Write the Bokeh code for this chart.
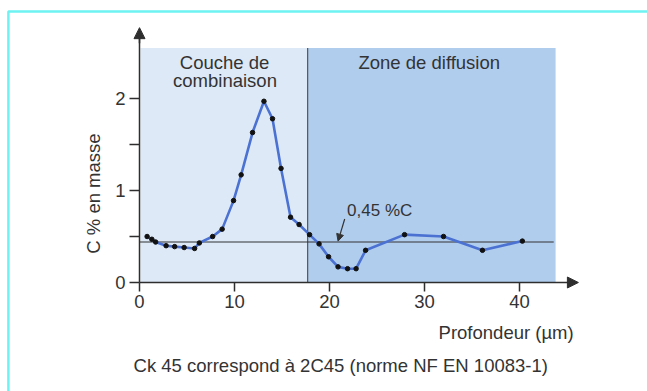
import numpy as np
from bokeh.plotting import figure
from bokeh.models import Range1d, FixedTicker, Arrow, NormalHead
from bokeh.embed import file_html
from bokeh.resources import INLINE
from bokeh.core.properties import value

# ---- data ----
depth_um = [0.8, 1.3, 1.7, 2.8, 3.7, 4.7, 5.8, 6.3, 7.7, 8.7, 9.9, 10.7, 11.9, 13.1,
            14.0, 14.9, 15.9, 16.8, 17.9, 18.9, 19.9, 20.9, 21.9, 22.8, 23.8, 27.9,
            32.0, 36.1, 40.3]
carbon_pct = [0.50, 0.47, 0.44, 0.40, 0.39, 0.38, 0.37, 0.43, 0.50, 0.58, 0.89, 1.17,
              1.63, 1.97, 1.78, 1.24, 0.71, 0.63, 0.52, 0.42, 0.28, 0.17, 0.15, 0.15,
              0.35, 0.52, 0.50, 0.35, 0.45]
ref_level = 0.44
ref_label = "0,45 %C"
zone_start = 0.1
zone_boundary = 17.7
zone_end = 43.8
zone_top = 2.55
zone_names = ["Couche de", "combinaison", "Zone de diffusion"]
x_ticks = [0, 10, 20, 30, 40]
y_ticks = [0, 1, 2]
y_minor_ticks = [0.5, 1.5]
x_title = "Profondeur (µm)"
y_title = "C % en masse"
caption = "Ck 45 correspond à 2C45 (norme NF EN 10083-1)"

# ---- layout constants ----
W, H = 647, 391
X0PX, Y0PX = 139, 282
XS, YS = 9.5, 92.0
FONT = value("Liberation Sans")
FS = "18.5px"
TXT = "#333333"
AX = "#2e2e2e"

p = figure(width=W, height=H,
           x_range=Range1d(-X0PX / XS, (W - X0PX) / XS),
           y_range=Range1d(-(H - Y0PX) / YS, Y0PX / YS),
           output_backend="svg", toolbar_location=None, min_border=0)
p.outline_line_color = None
p.grid.visible = False
p.background_fill_color = "white"
p.border_fill_color = "white"

# cyan page border
p.quad(left=[-13.8], right=[80], top=[2.946], bottom=[-5],
       fill_color=None, line_color="#6ff2f2", line_width=2.5)

# shaded zones
p.quad(left=[zone_start], right=[zone_boundary], bottom=[0], top=[zone_top],
       fill_color="#dde9f6", line_color=None)
p.quad(left=[zone_boundary], right=[zone_end], bottom=[0], top=[zone_top],
       fill_color="#b0cdee", line_color=None)
p.segment(x0=[zone_boundary], y0=[0], x1=[zone_boundary], y1=[zone_top],
          line_color="#555555", line_width=1.2)

# reference level line
p.segment(x0=[0], y0=[ref_level], x1=[zone_end - 0.2], y1=[ref_level],
          line_color="#333333", line_width=1.1)

# data
p.line(depth_um, carbon_pct, line_color="#4b72d2", line_width=2.6)
p.scatter(depth_um, carbon_pct, size=4.5, color="#111111")

# zone labels
p.text(x=[8.95, 9.0, 30.5], y=[2.395, 2.196, 2.395], text=zone_names,
       text_font=FONT, text_font_size=FS, text_align="center",
       text_baseline="middle", text_color=TXT)

# reference label and pointer
p.text(x=[21.85], y=[0.783], text=[ref_label], text_font=FONT, text_font_size="17px",
       text_align="left", text_baseline="middle", text_color=TXT)
p.add_layout(Arrow(x_start=21.6, y_start=0.69, x_end=20.9, y_end=ref_level + 0.01,
                   line_color="#333333", line_width=1.2,
                   end=NormalHead(size=7, fill_color="#333333", line_color="#333333")))

# axis titles and caption
p.text(x=[45.7], y=[-0.54], text=[x_title], text_font=FONT, text_font_size=FS,
       text_align="right", text_baseline="middle", text_color=TXT)
p.text(x=[-4.84], y=[0.967], text=[y_title], text_font=FONT, text_font_size=FS,
       text_align="center", text_baseline="middle", text_color=TXT, angle=np.pi / 2)
p.text(x=[-0.63], y=[-0.902], text=[caption], text_font=FONT, text_font_size=FS,
       text_align="left", text_baseline="middle", text_color=TXT)

# axes through the origin
xa = p.xaxis[0]
xa.fixed_location = 0
xa.bounds = (0, 46.0)
xa.ticker = FixedTicker(ticks=x_ticks)
xa.major_tick_out = 9
xa.major_tick_in = 0
xa.minor_tick_out = 0
xa.minor_tick_in = 0
xa.major_label_standoff = 3
xa.axis_line_color = AX
xa.axis_line_width = 1.5
xa.major_tick_line_color = AX
xa.major_tick_line_width = 1.5
xa.major_label_text_font = "Liberation Sans"
xa.major_label_text_font_size = FS
xa.major_label_text_color = TXT

ya = p.yaxis[0]
ya.fixed_location = 0
ya.bounds = (0, 2.72)
ya.ticker = FixedTicker(ticks=y_ticks, minor_ticks=y_minor_ticks)
ya.major_tick_out = 10
ya.major_tick_in = 0
ya.minor_tick_out = 10
ya.minor_tick_in = 0
ya.major_label_standoff = 4
ya.axis_line_color = AX
ya.axis_line_width = 1.5
ya.major_tick_line_color = AX
ya.major_tick_line_width = 1.5
ya.minor_tick_line_color = AX
ya.minor_tick_line_width = 1.5
ya.major_label_text_font = "Liberation Sans"
ya.major_label_text_font_size = FS
ya.major_label_text_color = TXT
ya.major_label_orientation = "horizontal"

# axis arrow heads
p.add_layout(Arrow(x_start=45.0, y_start=0, x_end=46.2, y_end=0, line_color=AX,
                   line_width=1.5,
                   end=NormalHead(size=11, fill_color=AX, line_color=AX)))
p.add_layout(Arrow(x_start=0, y_start=2.6, x_end=0, y_end=2.77, line_color=AX,
                   line_width=1.5,
                   end=NormalHead(size=11, fill_color=AX, line_color=AX)))

open("out.html", "w").write(file_html(p, INLINE))
